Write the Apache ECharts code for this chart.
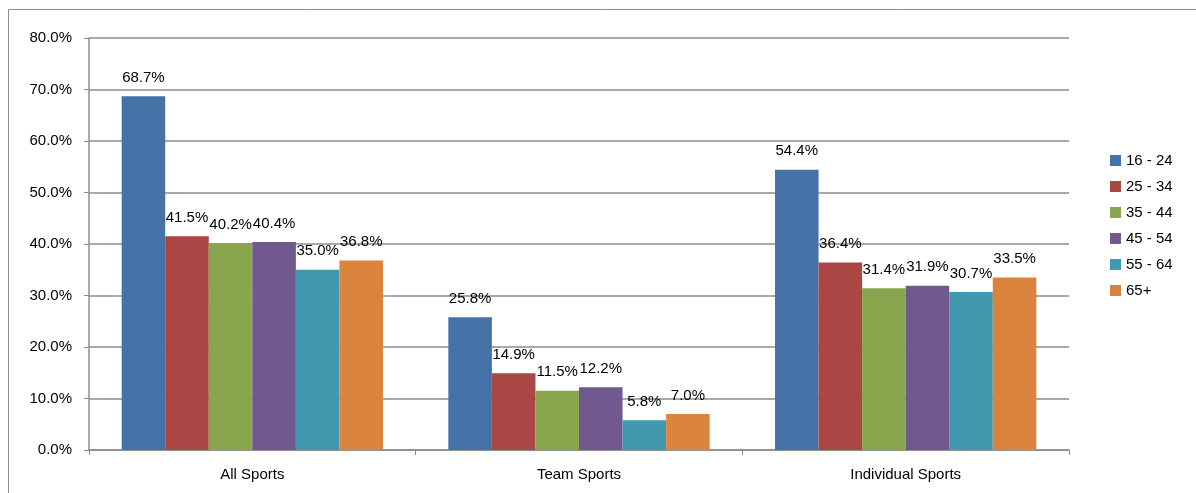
<!DOCTYPE html>
<html><head><meta charset="utf-8">
<script src="https://cdn.jsdelivr.net/npm/echarts@6/dist/echarts.min.js"></script>
<style>html,body{margin:0;padding:0;background:#fff}#c{width:1196px;height:493px}</style>
</head><body><div id="c"></div>
<script>
var categories = ['All Sports', 'Team Sports', 'Individual Sports'];
var seriesNames = ['16 - 24', '25 - 34', '35 - 44', '45 - 54', '55 - 64', '65+'];
var s1624 = [68.7, 25.8, 54.4];
var s2534 = [41.5, 14.9, 36.4];
var s3544 = [40.2, 11.5, 31.4];
var s4554 = [40.4, 12.2, 31.9];
var s5564 = [35.0, 5.8, 30.7];
var s65 = [36.8, 7.0, 33.5];
var colors = ['#4572A7', '#AA4643', '#89A54E', '#71588F', '#4198AF', '#DB843D'];
var allData = [s1624, s2534, s3544, s4554, s5564, s65];
var font = 'Liberation Sans, Arial, sans-serif';
var chart = echarts.init(document.getElementById('c'));
chart.setOption({
  animation: false,
  color: colors,
  textStyle: { fontFamily: font },
  graphic: [{
    type: 'rect', silent: true,
    shape: { x: 8.5, y: 9.5, width: 1300, height: 600 },
    style: { fill: 'none', stroke: '#8c8c8c', lineWidth: 1 }
  }],
  grid: { left: 89, right: 127, top: 38, bottom: 43 },
  legend: {
    orient: 'vertical', left: 1105, top: 148,
    itemWidth: 11, itemHeight: 11, itemGap: 11,
    icon: 'rect',
    textStyle: { fontSize: 15, color: '#000', fontFamily: font }
  },
  xAxis: {
    type: 'category', data: categories,
    axisLine: { lineStyle: { color: '#8c8c8c', width: 1.5 } },
    axisTick: { show: true, length: 5, lineStyle: { color: '#8c8c8c' } },
    axisLabel: { fontSize: 15, color: '#000', margin: 17 }
  },
  yAxis: {
    type: 'value', min: 0, max: 80, interval: 10,
    axisLine: { show: true, lineStyle: { color: '#8c8c8c', width: 1.5 } },
    axisTick: { show: true, length: 5, lineStyle: { color: '#8c8c8c' } },
    splitLine: { lineStyle: { color: '#8c8c8c', width: 1.5 } },
    axisLabel: { fontSize: 15, color: '#000', margin: 17, formatter: function (v) { return v.toFixed(1) + '%'; } }
  },
  series: seriesNames.map(function (n, i) {
    return {
      name: n, type: 'bar', data: allData[i],
      barGap: '0%', barCategoryGap: '20%',
      label: { show: true, position: 'top', distance: 11, fontSize: 15, color: '#000',
        formatter: function (p) { return p.value.toFixed(1) + '%'; } }
    };
  })
});
</script></body></html>
